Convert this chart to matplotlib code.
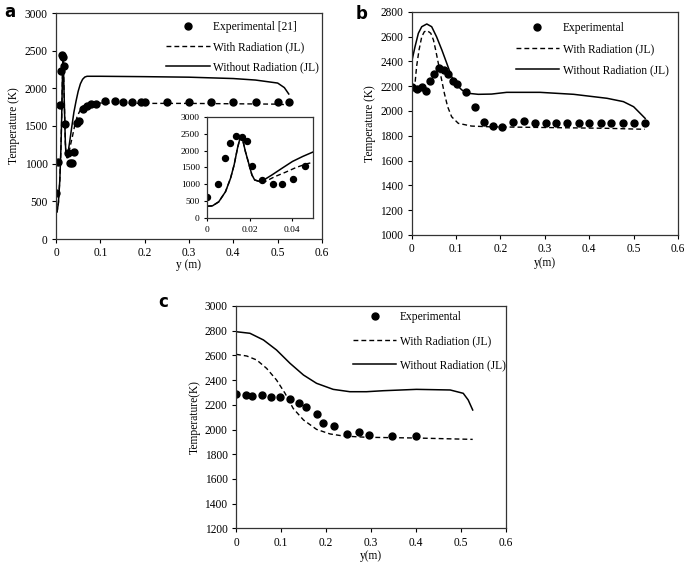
import matplotlib
matplotlib.use("Agg")
import matplotlib.pyplot as plt
import numpy as np

plt.rcParams['font.family'] = ['Liberation Serif', 'DejaVu Serif']

# ---------------- Panel a data ----------------
a_exp_x = [0.0, 0.005, 0.0086, 0.0106, 0.0137, 0.0163, 0.0187, 0.0211, 0.026, 0.0309, 0.0354, 0.0407,
           0.0463, 0.053, 0.061, 0.07, 0.08, 0.09, 0.111, 0.132, 0.152, 0.172, 0.192, 0.2, 0.25, 0.3,
           0.35, 0.4, 0.45, 0.5, 0.525]
a_exp_y = [610, 1020, 1780, 2230, 2440, 2420, 2300, 1530, 1140, 1010, 1010, 1160,
           1540, 1570, 1725, 1760, 1790, 1795, 1830, 1830, 1812, 1818, 1812, 1815, 1812, 1812,
           1812, 1812, 1812, 1812, 1812]
a_norad_x = [0.0, 0.0024, 0.0054, 0.0086, 0.011, 0.0127, 0.0143, 0.0156, 0.0166, 0.018, 0.02, 0.0211,
             0.0224, 0.0249, 0.0265, 0.0306, 0.0354, 0.0403, 0.0452, 0.05, 0.055, 0.06, 0.065, 0.07,
             0.1, 0.2, 0.3, 0.4, 0.45, 0.5, 0.515, 0.525]
a_norad_y = [350, 360, 480, 780, 1180, 1580, 2080, 2400, 2360, 1980, 1530, 1280,
             1130, 1080, 1120, 1280, 1480, 1680, 1830, 1960, 2060, 2120, 2150, 2160,
             2160, 2155, 2148, 2130, 2110, 2070, 2010, 1925]
a_rad_x = [0.0, 0.0024, 0.0054, 0.0086, 0.011, 0.0127, 0.0143, 0.0156, 0.0166, 0.018, 0.02, 0.0211,
           0.0224, 0.0249, 0.0273, 0.032, 0.037, 0.042, 0.047, 0.052, 0.06, 0.07, 0.1, 0.2, 0.3,
           0.4, 0.5, 0.525]
a_rad_y = [350, 360, 480, 780, 1180, 1580, 2080, 2400, 2360, 1980, 1530, 1280,
           1130, 1080, 1080, 1230, 1360, 1500, 1610, 1680, 1760, 1795, 1805, 1800, 1800,
           1795, 1790, 1780]

# ---------------- Panel b data ----------------
b_exp_x = [0.0, 0.013, 0.0226, 0.032, 0.041, 0.051, 0.062, 0.072, 0.081, 0.092, 0.1015, 0.1226,
           0.142, 0.164, 0.183, 0.203, 0.228, 0.253, 0.277, 0.302, 0.326, 0.351, 0.376, 0.4,
           0.426, 0.45, 0.475, 0.5, 0.525]
b_exp_y = [2195, 2175, 2190, 2164, 2242, 2298, 2344, 2331, 2298, 2242, 2218, 2150,
           2034, 1910, 1875, 1867, 1908, 1921, 1900, 1900, 1900, 1900, 1900, 1900,
           1900, 1900, 1900, 1900, 1900]
b_norad_x = [0.0, 0.0075, 0.015, 0.0226, 0.034, 0.045, 0.056, 0.068, 0.079, 0.09, 0.1016, 0.113,
             0.128, 0.15, 0.18, 0.214, 0.289, 0.365, 0.44, 0.477, 0.5, 0.515, 0.526]
b_norad_y = [2397, 2518, 2626, 2679, 2701, 2679, 2598, 2491, 2384, 2276, 2209, 2169,
             2142, 2134, 2136, 2150, 2150, 2134, 2102, 2075, 2034, 1980, 1940]
b_rad_x = [0.0, 0.004, 0.0075, 0.011, 0.0165, 0.0226, 0.0285, 0.035, 0.043, 0.049, 0.054, 0.06,
           0.066, 0.0736, 0.081, 0.09, 0.105, 0.135, 0.177, 0.289, 0.44, 0.525]
b_rad_y = [2180, 2200, 2222, 2357, 2491, 2598, 2639, 2647, 2626, 2572, 2491, 2384,
           2276, 2142, 2034, 1953, 1900, 1878, 1872, 1867, 1860, 1852]

# ---------------- Panel c data ----------------
c_exp_x = [0.0, 0.0215, 0.036, 0.057, 0.077, 0.0985, 0.12, 0.14, 0.156, 0.179, 0.193, 0.217,
           0.247, 0.273, 0.296, 0.346, 0.399]
c_exp_y = [2285, 2279, 2268, 2279, 2260, 2260, 2250, 2212, 2180, 2126, 2055, 2028,
           1961, 1983, 1956, 1950, 1947]
c_norad_x = [0.0, 0.031, 0.061, 0.09, 0.12, 0.15, 0.179, 0.216, 0.253, 0.29, 0.327, 0.401,
             0.476, 0.505, 0.516, 0.526]
c_norad_y = [2792, 2779, 2725, 2644, 2536, 2441, 2374, 2325, 2306, 2306, 2314, 2325,
             2320, 2293, 2239, 2158]
c_rad_x = [0.0, 0.024, 0.046, 0.068, 0.09, 0.109, 0.127, 0.15, 0.179, 0.209, 0.239, 0.29,
           0.401, 0.526]
c_rad_y = [2609, 2595, 2563, 2495, 2401, 2293, 2171, 2077, 2001, 1964, 1947, 1937,
           1931, 1920]

xticks = [0, 0.1, 0.2, 0.3, 0.4, 0.5, 0.6]
xticklabels = ['0', '0.1', '0.2', '0.3', '0.4', '0.5', '0.6']

fig = plt.figure(figsize=(6.85, 5.62), dpi=100)

FS = 8.3
SPINE = '#333333'


def style(ax, fs=FS):
    for s in ax.spines.values():
        s.set_color(SPINE)
        s.set_linewidth(0.9)
    ax.tick_params(direction='out', length=3, width=0.8, labelsize=fs, colors='black',
                   top=False, right=False, pad=3)


def draw(ax, ex, ey, rx, ry, nx, ny, labels):
    ax.plot(rx, ry, color='black', linestyle=(0, (3.5, 2.2)), lw=1.0, label=labels[1])
    ax.plot(nx, ny, color='black', linestyle='-', lw=1.1, label=labels[2])
    ax.plot(ex, ey, 'o', color='black', markersize=5, label=labels[0], linestyle='none')


def legend(ax, x, y, spacing):
    h, l = ax.get_legend_handles_labels()
    order = [2, 0, 1]
    ax.legend([h[i] for i in order], [l[i] for i in order], loc='upper left',
              bbox_to_anchor=(x, y), frameon=False, fontsize=FS, handlelength=3.8,
              handletextpad=0.3, labelspacing=spacing, borderpad=0, borderaxespad=0,
              numpoints=1)


# Panel a
ax_a = fig.add_axes([56/685, 1-239/562, 266/685, 226/562])
draw(ax_a, a_exp_x, a_exp_y, a_rad_x, a_rad_y, a_norad_x, a_norad_y,
     ['Experimental [21]', 'With Radiation (JL)', 'Without Radiation (JL)'])
ax_a.set_xlim(0, 0.6)
ax_a.set_ylim(0, 3000)
ax_a.set_xticks(xticks)
ax_a.set_xticklabels(xticklabels)
ax_a.set_yticks(range(0, 3001, 500))
ax_a.set_xlabel('y (m)', fontsize=FS, labelpad=0)
ax_a.set_ylabel('Temperature (K)', fontsize=FS, labelpad=3)
style(ax_a)
legend(ax_a, 0.414, 0.965, 0.72)

# Inset
ax_in = fig.add_axes([207.3/685, 1-218/562, 105.7/685, 101/562])
ax_in.plot(a_rad_x, a_rad_y, color='black', linestyle=(0, (3.5, 2.2)), lw=1.0)
ax_in.plot(a_norad_x, a_norad_y, color='black', linestyle='-', lw=1.1)
ax_in.plot(a_exp_x, a_exp_y, 'o', color='black', markersize=4.3, linestyle='none')
ax_in.set_xlim(0, 0.05)
ax_in.set_ylim(0, 3000)
ax_in.set_xticks([0, 0.02, 0.04])
ax_in.set_xticklabels(['0', '0.02', '0.04'])
ax_in.set_yticks(range(0, 3001, 500))
style(ax_in, fs=6.8)
ax_in.tick_params(length=2.5)

# Panel b
ax_b = fig.add_axes([411.7/685, 1-235/562, 266.3/685, 223.3/562])
draw(ax_b, b_exp_x, b_exp_y, b_rad_x, b_rad_y, b_norad_x, b_norad_y,
     ['Experimental', 'With Radiation (JL)', 'Without Radiation (JL)'])
ax_b.set_xlim(0, 0.6)
ax_b.set_ylim(1000, 2800)
ax_b.set_xticks(xticks)
ax_b.set_xticklabels(xticklabels)
ax_b.set_yticks(range(1000, 2801, 200))
ax_b.set_xlabel('y(m)', fontsize=FS, labelpad=1)
ax_b.set_ylabel('Temperature (K)', fontsize=FS, labelpad=3)
style(ax_b)
legend(ax_b, 0.39, 0.955, 0.8)

# Panel c
ax_c = fig.add_axes([236/685, 1-528.3/562, 270/685, 222.3/562])
draw(ax_c, c_exp_x, c_exp_y, c_rad_x, c_rad_y, c_norad_x, c_norad_y,
     ['Experimental', 'With Radiation (JL)', 'Without Radiation (JL)'])
ax_c.set_xlim(0, 0.6)
ax_c.set_ylim(1200, 3000)
ax_c.set_xticks(xticks)
ax_c.set_xticklabels(xticklabels)
ax_c.set_yticks(range(1200, 3001, 200))
ax_c.set_xlabel('y(m)', fontsize=FS, labelpad=1)
ax_c.set_ylabel('Temperature(K)', fontsize=FS, labelpad=3)
style(ax_c)
legend(ax_c, 0.432, 0.977, 1.05)

# Panel letters
for txt, x, y in [('a', 4, 12), ('b', 356, 14), ('c', 158, 302)]:
    fig.text(x/685, 1-y/562, txt, fontsize=12, fontweight='bold',
             family=['DejaVu Sans'], va='center', ha='left')

fig.savefig('out.png', dpi=100)
